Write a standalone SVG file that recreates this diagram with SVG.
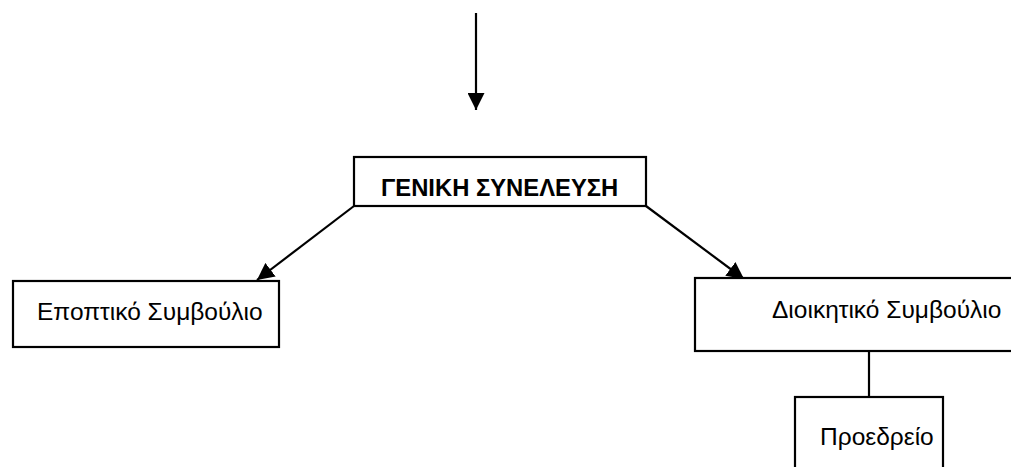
<svg xmlns="http://www.w3.org/2000/svg" width="1011" height="467" viewBox="0 0 1011 467">
<style>
.box{fill:#fff;stroke:#000;stroke-width:2.2}
.lbl{font-family:"Liberation Sans",Arial,sans-serif;font-size:24.5px;fill:#000}
.b{font-weight:bold;font-size:23.8px}
.con{stroke:#000;stroke-width:2.2;fill:none}
</style>
<defs>
<marker id="ah2" viewBox="0 0 10 10" refX="10" refY="5" markerWidth="17" markerHeight="17" markerUnits="userSpaceOnUse" orient="auto">
<path d="M0,0 L10,5 L0,10 z" fill="#000"/>
</marker>
</defs>
<rect width="1011" height="467" fill="#fff"/>
<g id="connectors">
<line class="con" x1="476" y1="13" x2="476" y2="110" marker-end="url(#ah2)"/>
<line class="con" x1="354" y1="206" x2="257" y2="280" marker-end="url(#ah2)"/>
<line class="con" x1="646" y1="206" x2="744" y2="279" marker-end="url(#ah2)"/>
<line class="con" x1="869" y1="351" x2="869" y2="397"/>
</g>
<g id="geniki">
<rect class="box" x="354" y="157" width="292" height="49"/>
<text class="lbl b" x="381" y="196">ΓΕΝΙΚΗ ΣΥΝΕΛΕΥΣΗ</text>
</g>
<g id="epoptiko">
<rect class="box" x="13" y="281" width="266" height="66"/>
<text class="lbl" x="37" y="320">Εποπτικό Συμβούλιο</text>
</g>
<g id="dioikitiko">
<rect class="box" x="695" y="278" width="330" height="73"/>
<text class="lbl" x="772" y="318">Διοικητικό Συμβούλιο</text>
</g>
<g id="proedreio">
<rect class="box" x="795" y="397" width="148" height="90"/>
<text class="lbl" x="820" y="445">Προεδρείο</text>
</g>
</svg>
